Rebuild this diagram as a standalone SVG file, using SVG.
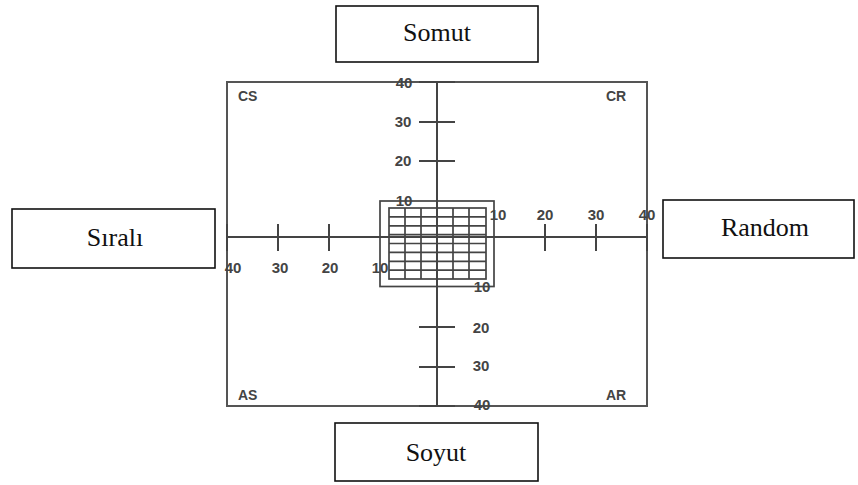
<svg xmlns="http://www.w3.org/2000/svg" width="858" height="485" viewBox="0 0 858 485">
<style>
.box{fill:#fff;stroke:#111;stroke-width:1.6}
.lbl{font-family:"Liberation Serif","Times New Roman",serif;font-size:26px;fill:#111;text-anchor:middle}
.frm{fill:none;stroke:#555;stroke-width:2}
.ax{stroke:#444;stroke-width:2;fill:none}
.tk{stroke:#444;stroke-width:2}
.grd{stroke:#444;stroke-width:1.7;fill:none}
.num{font-family:"Liberation Sans",Arial,sans-serif;font-size:15px;font-weight:bold;fill:#444;text-anchor:middle}
.q{font-family:"Liberation Sans",Arial,sans-serif;font-size:14px;font-weight:bold;fill:#444}
</style>
<rect width="858" height="485" fill="#fff"/>
<g id="chart">
<rect class="frm" x="227" y="82" width="420" height="324"/>
<line class="ax" x1="437" y1="82" x2="437" y2="406"/>
<line class="ax" x1="227" y1="237" x2="647" y2="237"/>
<g id="ticks">
<line class="tk" x1="419" y1="82" x2="455" y2="82"/>
<line class="tk" x1="419" y1="122" x2="455" y2="122"/>
<line class="tk" x1="419" y1="161" x2="455" y2="161"/>
<line class="tk" x1="419" y1="327" x2="455" y2="327"/>
<line class="tk" x1="419" y1="367" x2="455" y2="367"/>
<line class="tk" x1="419" y1="406" x2="455" y2="406"/>
<line class="tk" x1="278" y1="224" x2="278" y2="251"/>
<line class="tk" x1="329" y1="224" x2="329" y2="251"/>
<line class="tk" x1="545" y1="224" x2="545" y2="251"/>
<line class="tk" x1="596" y1="224" x2="596" y2="251"/>
<line class="tk" x1="647" y1="224" x2="647" y2="251"/>
<line class="tk" x1="227" y1="224" x2="227" y2="251"/>
</g>
<g id="grid">
<rect class="grd" x="380" y="201" width="114" height="85.5"/>
<rect class="grd" x="389" y="208" width="97" height="71"/>
<path class="grd" d="M405 208V279M421 208V279M453 208V279M469 208V279M389 216.9H486M389 225.8H486M389 234.6H486M389 243.5H486M389 252.4H486M389 261.3H486M389 270.1H486"/>
</g>
<g id="numbers">
<text class="num" x="404" y="88">40</text>
<text class="num" x="403" y="127">30</text>
<text class="num" x="403" y="166">20</text>
<text class="num" x="404" y="206">10</text>
<text class="num" x="482" y="292">10</text>
<text class="num" x="481" y="333">20</text>
<text class="num" x="481" y="371">30</text>
<text class="num" x="482" y="410">40</text>
<text class="num" x="233" y="273">40</text>
<text class="num" x="280" y="273">30</text>
<text class="num" x="330" y="273">20</text>
<text class="num" x="380" y="273">10</text>
<text class="num" x="498" y="220">10</text>
<text class="num" x="545" y="220">20</text>
<text class="num" x="596" y="220">30</text>
<text class="num" x="647" y="220">40</text>
</g>
<text class="q" x="238" y="101">CS</text>
<text class="q" x="606" y="101">CR</text>
<text class="q" x="238" y="400">AS</text>
<text class="q" x="606" y="400">AR</text>
</g>
<g id="somut">
<rect class="box" x="336" y="6" width="202" height="56"/>
<text class="lbl" x="437" y="41">Somut</text>
</g>
<g id="soyut">
<rect class="box" x="335" y="423" width="203" height="58"/>
<text class="lbl" x="436" y="461">Soyut</text>
</g>
<g id="sirali">
<rect class="box" x="12" y="209" width="203" height="59"/>
<text class="lbl" x="115" y="246">Sıralı</text>
</g>
<g id="random">
<rect class="box" x="663" y="200" width="191" height="58"/>
<text class="lbl" x="765" y="236">Random</text>
</g>
</svg>
